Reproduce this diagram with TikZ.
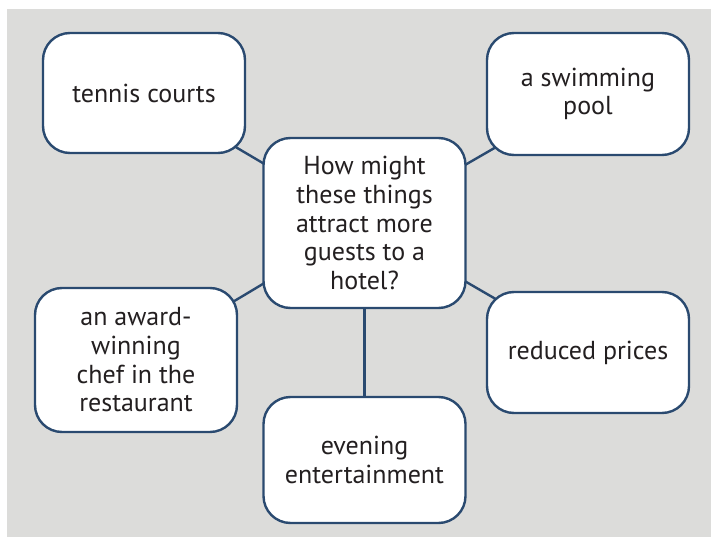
\documentclass[tikz,border=0pt]{standalone}
\usepackage{fontspec}
\setmainfont{PT Sans}
\definecolor{bggray}{HTML}{DCDCDA}
\definecolor{boxblue}{HTML}{2A4A70}
\definecolor{txt}{HTML}{231F20}
\pgfdeclarelayer{bg}
\pgfdeclarelayer{edges}
\pgfsetlayers{bg,edges,main}
\begin{document}
\begin{tikzpicture}[x=1pt,y=-1pt,
  bubble/.style={draw=boxblue, line width=2.4pt, fill=white, rounded corners=27pt,
    minimum width=202pt, inner sep=0pt, align=center, text=txt,
    font=\fontsize{26}{28.7}\selectfont},
  link/.style={draw=boxblue, line width=2.4pt}]
\useasboundingbox (0,0) rectangle (711,537);
\begin{pgfonlayer}{bg}
\fill[bggray] (7,9) rectangle (711,537);
\end{pgfonlayer}
\node[bubble, minimum height=170pt] (q) at (364.5,223) {How might\\these things\\attract more\\guests to a\\hotel?};
\node[bubble, minimum height=120pt] (tc) at (144,93) {tennis courts};
\node[bubble, minimum height=122pt] (sp) at (588,94) {a swimming\\pool};
\node[bubble, minimum height=144pt] (aw) at (136,360) {an award-\\winning\\chef in the\\restaurant};
\node[bubble, minimum height=121pt] (rp) at (588,352.5) {reduced prices};
\node[bubble, minimum height=126pt] (ev) at (364.5,460) {evening\\entertainment};
\begin{pgfonlayer}{edges}
\draw[link] (tc.center) -- (q.center);
\draw[link] (sp.center) -- (q.center);
\draw[link] (aw.center) -- (q.center);
\draw[link] (rp.center) -- (q.center);
\draw[link] (ev.center) -- (q.center);
\end{pgfonlayer}
\end{tikzpicture}
\end{document}
